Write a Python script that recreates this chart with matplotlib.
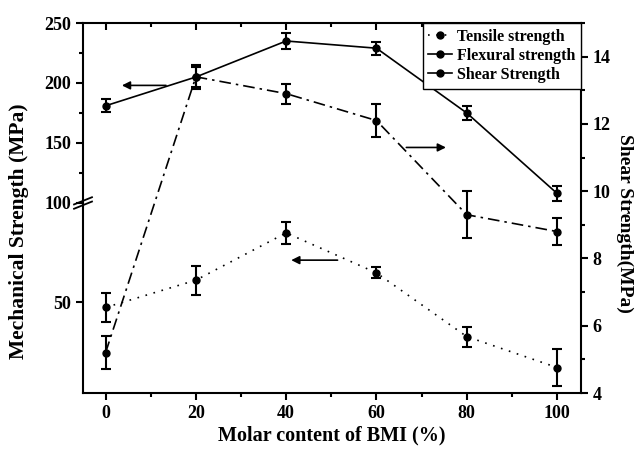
import numpy as np
import matplotlib
matplotlib.use("Agg")
import matplotlib.pyplot as plt
from matplotlib.ticker import MultipleLocator
from matplotlib.lines import Line2D

plt.rcParams['font.family'] = ['Liberation Serif', 'DejaVu Serif']
plt.rcParams['font.weight'] = 'bold'

# data
bmi = [0, 20, 40, 60, 80, 100]
tensile = [47, 62, 88, 66, 31, 14]
tensile_err = [8, 8, 6, 3, 5.5, 10]
flexural = [181, 205, 235, 229, 175, 108]
flexural_err = [5.5, 10, 7, 5.5, 6, 6.5]
shear = [5.2, 13.4, 12.9, 12.1, 9.3, 8.8]
shear_err = [0.5, 0.3, 0.3, 0.5, 0.7, 0.4]

fig = plt.figure(figsize=(6.39, 4.51), dpi=100)
L, W = 0.1299, 0.7793
ax_lo = fig.add_axes([L, 0.1286, W, 0.4213])
ax_hi = fig.add_axes([L, 0.5499, W, 0.3991], sharex=ax_lo)
ax_r = fig.add_axes([L, 0.1286, W, 0.8204], sharex=ax_lo)
ax_r.patch.set_visible(False)

lw = 1.2
ls_t = (0, (1, 4))
ls_f = '-'
ls_s = (0, (7, 3, 1.5, 3))
eb = dict(color='black', ecolor='black', elinewidth=1.5, capsize=3.5,
          capthick=1.5, marker='o', markersize=5, lw=lw)

ax_lo.errorbar(bmi, tensile, yerr=tensile_err, ls=ls_t, **eb)
ax_hi.errorbar(bmi, flexural, yerr=flexural_err, ls=ls_f, **eb)
ax_r.errorbar(bmi, shear, yerr=shear_err, ls=ls_s, **eb)

ax_lo.set_xlim(-5, 105.3)
ax_lo.set_ylim(0, 104.4)
ax_hi.set_ylim(100, 250)
ax_r.set_ylim(4, 15)

# spines
for ax in (ax_lo, ax_hi, ax_r):
    for s in ax.spines.values():
        s.set_linewidth(1.5)
ax_lo.spines['top'].set_visible(False)
ax_lo.spines['right'].set_visible(False)
ax_hi.spines['bottom'].set_visible(False)
ax_hi.spines['right'].set_visible(False)
ax_r.spines['left'].set_visible(False)
ax_r.spines['bottom'].set_visible(False)
ax_r.spines['top'].set_visible(False)

# ticks
ax_lo.xaxis.set_major_locator(MultipleLocator(20))
ax_lo.xaxis.set_minor_locator(MultipleLocator(10))
ax_hi.yaxis.set_major_locator(MultipleLocator(50))
ax_hi.yaxis.set_minor_locator(MultipleLocator(25))
ax_r.yaxis.set_major_locator(MultipleLocator(2))
ax_r.yaxis.set_minor_locator(MultipleLocator(1))

ax_lo.tick_params(axis='x', which='both', direction='out', top=False, width=1.5, labelsize=13)
ax_lo.tick_params(axis='x', which='major', length=5)
ax_lo.tick_params(axis='x', which='minor', length=3)
ax_lo.tick_params(axis='y', which='major', direction='out', length=5, width=1.5, labelsize=13)
ax_lo.set_yticks([50])

ax_hi.tick_params(axis='x', which='both', bottom=False, labelbottom=False,
                  top=True, direction='in', width=1.5)
ax_hi.tick_params(axis='x', which='major', length=5)
ax_hi.tick_params(axis='x', which='minor', length=3)
ax_hi.tick_params(axis='y', which='both', direction='out', width=1.5, labelsize=13)
ax_hi.tick_params(axis='y', which='major', length=5)
ax_hi.tick_params(axis='y', which='minor', length=3)

ax_r.tick_params(axis='x', which='both', bottom=False, labelbottom=False)
ax_r.yaxis.tick_right()
ax_r.tick_params(axis='y', which='both', direction='out', width=1.5, labelsize=13,
                 left=False, labelleft=False)
ax_r.tick_params(axis='y', which='major', length=5)
ax_r.tick_params(axis='y', which='minor', length=3)

# break marks on left spine
for dy in (-0.012, 0.012):
    ax_hi.plot([-0.018, 0.018], [dy - 0.02, dy + 0.02], transform=ax_hi.transAxes,
               color='black', lw=1.3, clip_on=False)

# labels
ax_lo.set_xlabel('Molar content of BMI (%)', fontsize=14.5, fontweight='bold', labelpad=3)
fig.text(0.03, 0.488, 'Mechanical Strength (MPa)', rotation=90, fontsize=15.5,
         fontweight='bold', va='center', ha='center')
ax_r.set_ylabel('Shear Strength(MPa)', rotation=270, fontsize=14,
                fontweight='bold', va='center', ha='center')
ax_r.yaxis.set_label_coords(1.087, 0.457)

# direction arrows
arrow = dict(arrowstyle='-|>', color='black', lw=1.2, mutation_scale=12)
ax_hi.annotate('', xy=(3, 198), xytext=(14, 198), arrowprops=arrow)
ax_r.annotate('', xy=(76, 11.3), xytext=(66, 11.3), arrowprops=arrow)
ax_lo.annotate('', xy=(40.5, 73), xytext=(52, 73), arrowprops=arrow)

handles = [Line2D([], [], color='black', ls=ls_t, lw=lw, marker='o', markersize=5),
           Line2D([], [], color='black', ls=ls_f, lw=lw, marker='o', markersize=5),
           Line2D([], [], color='black', ls='-', lw=lw, marker='o', markersize=5)]
leg = ax_r.legend(handles,
                  ['Tensile strength', 'Flexural strength', 'Shear Strength'],
                  loc='upper right', borderaxespad=0, fancybox=False,
                  edgecolor='black', framealpha=1, handlelength=1.5,
                  handletextpad=0.3, borderpad=0.35, labelspacing=0.2,
                  prop={'weight': 'bold', 'size': 11.5})
leg.get_frame().set_linewidth(1.0)

fig.savefig('out.png', dpi=100)
